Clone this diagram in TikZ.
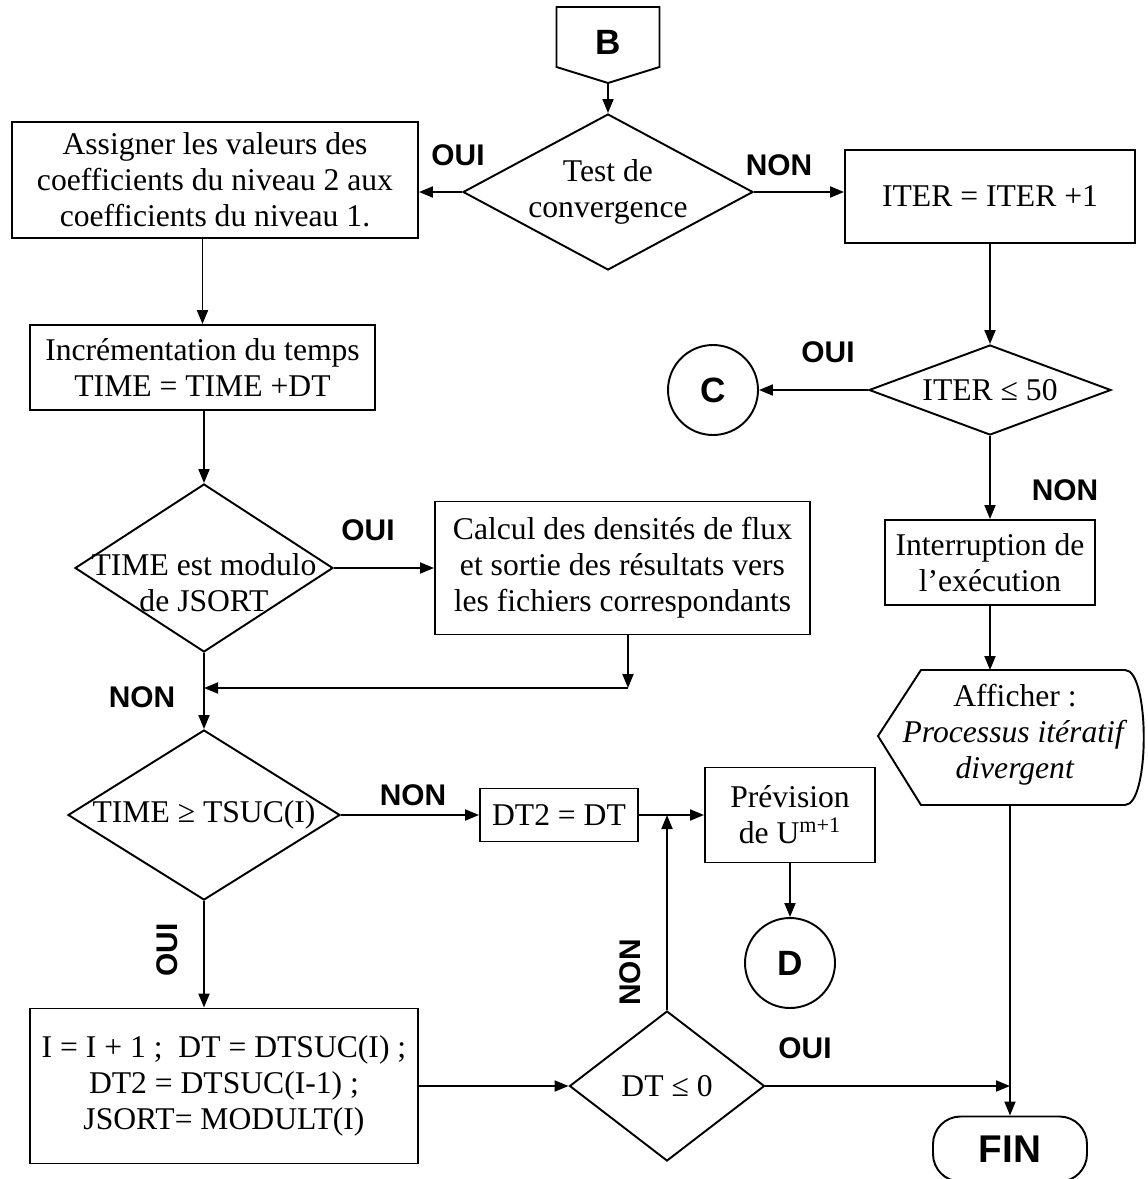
\documentclass[tikz,border=0pt]{standalone}
\usepackage{fontspec}
\setmainfont{Liberation Serif}
\newfontfamily\labsans{Liberation Sans}
\usepackage{tikz}
\usetikzlibrary{shapes.geometric,arrows.meta}
\newcommand{\txtsize}{\fontsize{18}{20.5}\selectfont}
\newcommand{\labsize}{\labsans\bfseries\fontsize{17}{20}\selectfont}

\begin{document}
\begin{tikzpicture}[line width=1.1pt,
    box/.style={draw,rectangle,align=center,font=\txtsize,inner sep=2pt},
    decision/.style={draw,diamond,align=center,font=\txtsize,inner sep=-5mm},
    conn/.style={draw,circle,minimum size=1.8cm,font=\labsans\bfseries\fontsize{20}{22}\selectfont},
    lab/.style={font=\labsize},
    arr/.style={-{Triangle[length=2.8mm,width=2.2mm]}}]
  \useasboundingbox (0,0) rectangle (22.94,-23.58);

  \node[lab,font=\labsans\bfseries\fontsize{20}{22}\selectfont] (B) at (12.16,-0.84) {B};
  \draw (11.13,-0.14) -- (13.19,-0.14) -- (13.19,-1.34) -- (12.16,-1.66) -- (11.13,-1.34) -- cycle;
  \coordinate (Bpt) at (12.16,-1.66);

  \node[decision,minimum width=5.8cm,minimum height=3.12cm] (test) at (12.16,-3.84) {Test de\\convergence};
  \node[box,minimum width=8.12cm,minimum height=2.32cm] (assign) at (4.3,-3.6) {Assigner les valeurs des\\coefficients du niveau 2 aux\\coefficients du niveau 1.};
  \node[box,minimum width=5.8cm,minimum height=1.86cm] (iter) at (19.8,-3.93) {ITER = ITER +1};
  \node[decision,minimum width=4.84cm,minimum height=1.8cm] (iterq) at (19.8,-7.8) {ITER ≤ 50};
  \node[conn] (C) at (14.26,-7.8) {C};
  \node[box,minimum width=4.2cm,minimum height=1.7cm] (interr) at (19.8,-11.25) {Interruption de\\l’exécution};
  \node[font=\txtsize,align=center] (disp) at (20.3,-14.7) {Afficher :\\\textit{Processus itératif}\\\textit{divergent}};
  \draw (17.56,-14.72) -- (18.42,-13.4) -- (22.5,-13.4) .. controls (23.0,-13.4) and (23.0,-16.1) .. (22.5,-16.1) -- (18.42,-16.1) -- cycle;
  \coordinate (dtop) at (19.8,-13.4);
  \coordinate (dbot) at (20.2,-16.1);
  \node[draw,rectangle,rounded corners=0.55cm,minimum width=3.08cm,minimum height=1.3cm,font=\labsans\bfseries\fontsize{22}{24}\selectfont] (fin) at (20.2,-22.98) {FIN};

  \node[box,minimum width=6.9cm,minimum height=1.7cm] (incr) at (4.05,-7.35) {Incrémentation du temps\\TIME = TIME +DT};
  \node[decision,minimum width=5.16cm,minimum height=3.36cm] (tmod) at (4.08,-11.36) {};
  \node[font=\txtsize,align=center] (tmodtxt) at (4.08,-11.66) {TIME est modulo\\de JSORT};
  \node[box,minimum width=7.5cm,minimum height=2.66cm] (calc) at (12.45,-11.36) {Calcul des densités de flux\\et sortie des résultats vers\\les fichiers correspondants};
  \coordinate (cdrop) at (12.56,-13.76);
  \coordinate (join) at (4.08,-13.76);
  \node[decision,minimum width=5.44cm,minimum height=3.4cm] (tsuc) at (4.08,-16.3) {TIME ≥ TSUC(I)};
  \node[box,minimum width=3.16cm,minimum height=1.06cm] (dt2) at (11.18,-16.3) {DT2 = DT};
  \node[box,minimum width=3.4cm,minimum height=1.9cm] (prev) at (15.8,-16.3) {Prévision\\de U\textsuperscript{m+1}};
  \node[conn] (D) at (15.8,-19.26) {D};
  \node[box,minimum width=7.76cm,minimum height=3.1cm] (ibox) at (4.48,-21.72) {I = I + 1 ;~ DT = DTSUC(I) ;\\DT2 = DTSUC(I-1) ;\\JSORT= MODULT(I)};
  \node[decision,minimum width=3.9cm,minimum height=3.0cm] (dtq) at (13.34,-21.72) {DT ≤ 0};

  \draw[arr] (Bpt) -- (test.north);
  \draw[arr] (test.west) -- (test.west -| assign.east);
  \draw[arr] (test.east) -- (test.east -| iter.west);
  \draw[arr] (iter.south) -- (iterq.north);
  \draw[arr] (iterq.west) -- (C.east);
  \draw[arr] (iterq.south) -- (interr.north);
  \draw[arr] (interr.south) -- (dtop);
  \draw[arr] (dbot) -- (fin.north);
  \draw[arr] (assign.south -| incr.north) -- (incr.north);
  \draw[arr] (incr.south -| tmod.north) -- (tmod.north);
  \draw[arr] (tmod.east) -- (calc.west);
  \draw[arr] (calc.south -| cdrop) -- (cdrop);
  \draw[arr] (cdrop) -- (join);
  \draw[arr] (tmod.south) -- (tsuc.north);
  \draw[arr] (tsuc.east) -- (dt2.west);
  \draw[arr] (dt2.east) -- (prev.west);
  \draw[arr] (dtq.north) -- (dtq.north |- dt2.east);
  \draw[arr] (prev.south) -- (D.north);
  \draw[arr] (tsuc.south) -- (tsuc.south |- ibox.north);
  \draw[arr] (ibox.east |- dtq.west) -- (dtq.west);
  \draw[arr] (dtq.east) -- (dtq.east -| fin.north);

  \node[lab] (l1) at (9.16,-3.1) {OUI};
  \node[lab] (l2) at (15.58,-3.3) {NON};
  \node[lab] (l3) at (16.56,-7.04) {OUI};
  \node[lab] (l4) at (21.3,-9.8) {NON};
  \node[lab] (l5) at (7.36,-10.6) {OUI};
  \node[lab] (l6) at (2.84,-13.94) {NON};
  \node[lab] (l7) at (8.26,-15.9) {NON};
  \node[lab,rotate=90] (l8) at (3.35,-19.0) {OUI};
  \node[lab,rotate=90] (l9) at (12.6,-19.45) {NON};
  \node[lab] (l10) at (16.1,-20.96) {OUI};
\end{tikzpicture}
\end{document}
